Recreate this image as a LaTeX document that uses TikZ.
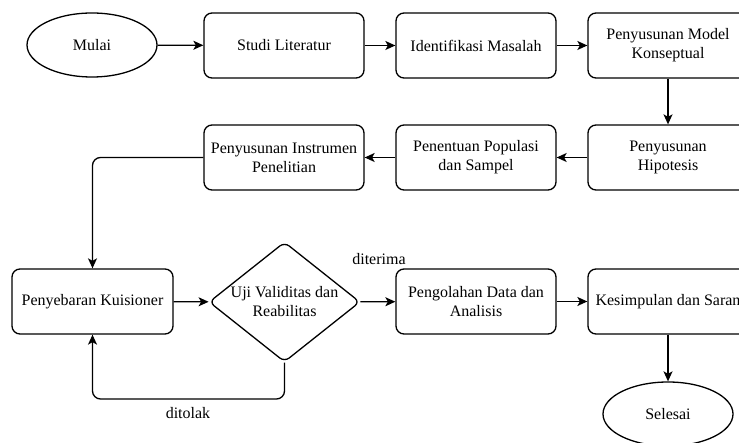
\documentclass[tikz,border=0pt]{standalone}
\usepackage{fontspec}
\setmainfont{Liberation Serif}
\usetikzlibrary{shapes.geometric,arrows.meta}
\begin{document}
\begin{tikzpicture}[x=1pt,y=-1pt,
  every node/.style={font=\fontsize{16}{19}\selectfont},
  box/.style={draw, line width=1.3pt, rounded corners=8pt, minimum width=160pt, minimum height=65pt, align=center, inner sep=2pt},
  oval/.style={draw, line width=1.3pt, ellipse, minimum width=130pt, minimum height=64pt, inner sep=0pt},
  dec/.style={draw, line width=1.3pt, diamond, rounded corners=6pt, minimum width=151pt, minimum height=120pt, inner sep=0pt},
  conn/.style={line width=1.3pt, -{Stealth[length=10pt,width=9pt,inset=2.5pt]}},
  lbl/.style={inner sep=0pt, align=center}]
\useasboundingbox (0,0) rectangle (739,443);
\node[oval] (mulai) at (92,45) {Mulai};
\node[box] (studi) at (284,45.5) {Studi Literatur};
\node[box] (ident) at (476,45.5) {Identifikasi Masalah};
\node[box] (model) at (668,45.5) {Penyusunan Model\\Konseptual};
\node[box] (hipo) at (668,157.5) {Penyusunan\\Hipotesis};
\node[box] (popul) at (476,157.5) {Penentuan Populasi\\dan Sampel};
\node[box] (instr) at (284,157.5) {Penyusunan Instrumen\\Penelitian};
\node[box, minimum width=161pt] (sebar) at (92.5,301.5) {Penyebaran Kuisioner};
\node[dec] (uji) at (284.5,302) {};
\node[lbl] (ujitext) at (uji.center) {Uji Validitas dan\\Reabilitas};
\node[box] (olah) at (476,301.5) {Pengolahan Data dan\\Analisis};
\node[box] (kesim) at (668,301.5) {Kesimpulan dan Saran};
\node[oval] (selesai) at (668,414) {Selesai};
\draw[conn] (mulai) -- (studi);
\draw[conn] (studi) -- (ident);
\draw[conn] (ident) -- (model);
\draw[conn] (model) -- (hipo);
\draw[conn] (hipo) -- (popul);
\draw[conn] (popul) -- (instr);
\draw[conn, rounded corners=8pt] (instr.west) -| (sebar.north);
\draw[conn] (sebar) -- (uji);
\draw[conn] (uji) -- (olah);
\node[lbl] (diterima) at (379,259) {diterima};
\draw[conn] (olah) -- (kesim);
\draw[conn] (kesim) -- (selesai);
\coordinate (turn) at (284.5,399);
\draw[conn, rounded corners=8pt] (uji.south) -- (turn) -| (sebar.south);
\node[lbl] (ditolak) at (188,413) {ditolak};
\end{tikzpicture}
\end{document}
